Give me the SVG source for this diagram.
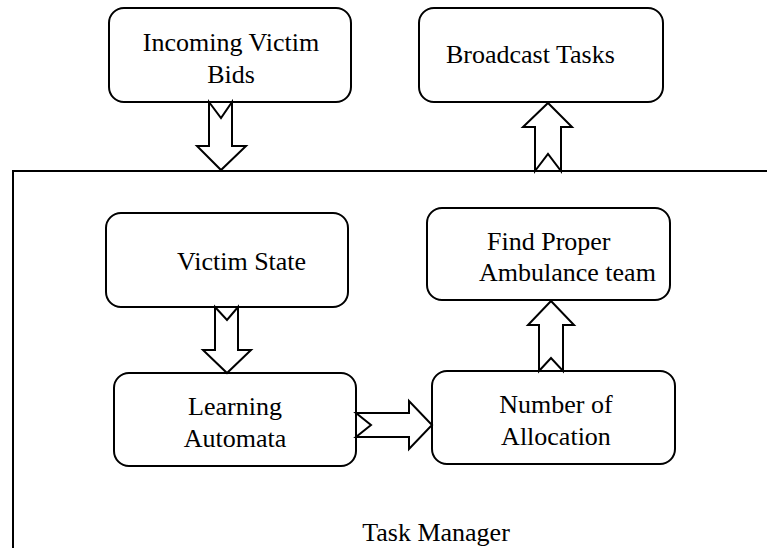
<svg xmlns="http://www.w3.org/2000/svg" width="767" height="548" viewBox="0 0 767 548">
<style>
.box{fill:#fff;stroke:#000;stroke-width:2}
.arr{fill:#fff;stroke:#000;stroke-width:2;stroke-linejoin:miter}
.frame{fill:none;stroke:#000;stroke-width:2}
.t{font-family:"Times New Roman","Liberation Serif",Tinos,"DejaVu Serif",serif;font-size:26px;fill:#000}
.c{text-anchor:middle}
</style>
<rect width="767" height="548" fill="#fff"/>
<g id="task-manager">
<path class="frame" d="M13,548 V171 H767"/>
<text class="t c" x="436" y="541">Task Manager</text>
</g>
<g id="incoming-victim-bids">
<rect class="box" x="109" y="8" width="242" height="94" rx="15"/>
<text class="t c" x="231" y="51">Incoming Victim</text>
<text class="t c" x="231" y="83">Bids</text>
</g>
<g id="broadcast-tasks">
<rect class="box" x="419" y="8" width="244" height="94" rx="15"/>
<text class="t" x="446" y="63">Broadcast Tasks</text>
</g>
<g id="victim-state">
<rect class="box" x="106" y="213" width="242" height="94" rx="15"/>
<text class="t" x="177" y="270">Victim State</text>
</g>
<g id="find-proper-ambulance-team">
<rect class="box" x="427" y="208" width="243" height="92" rx="15"/>
<text class="t" x="487" y="250">Find Proper</text>
<text class="t" x="479" y="281">Ambulance team</text>
</g>
<g id="learning-automata">
<rect class="box" x="114" y="373" width="242" height="93" rx="15"/>
<text class="t c" x="235" y="415">Learning</text>
<text class="t c" x="235" y="447">Automata</text>
</g>
<g id="number-of-allocation">
<rect class="box" x="432" y="371" width="243" height="93" rx="15"/>
<text class="t c" x="556" y="413">Number of</text>
<text class="t c" x="556" y="445">Allocation</text>
</g>
<g id="connectors">
<polygon class="arr" points="209,102 221,118 232,102 232,146 246,146 221,170 197,146 209,146"/>
<polygon class="arr" points="535,171 548,154 561,171 561,127 572,127 548,103 523,127 535,127"/>
<polygon class="arr" points="215,307 227,320 238,307 238,350 251,350 227,373 203,350 215,350"/>
<polygon class="arr" points="356,413 409,413 409,401 432,425 409,449 409,437 356,437 371,425"/>
<polygon class="arr" points="539,371 551,358 563,371 563,325 574,325 551,301 528,325 539,325"/>
</g>
</svg>
